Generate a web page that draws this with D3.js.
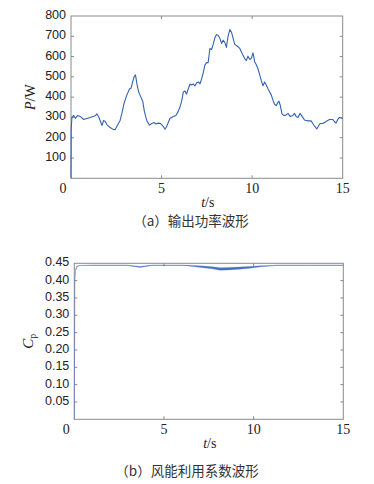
<!DOCTYPE html>
<html>
<head>
<meta charset="utf-8">
<script src="https://cdn.jsdelivr.net/npm/d3@7"></script>
<style>
  body { margin: 0; background: #fff; }
</style>
</head>
<body>
<script>
// ---- data ----
var xTicks = [0, 5, 10, 15];
var powerTicks = [100, 200, 300, 400, 500, 600, 700, 800];
var cpTicks = [0.05, 0.10, 0.15, 0.20, 0.25, 0.30, 0.35, 0.40, 0.45];

// (a) output power, t in s, P in W
var powerT = [0, 0.01, 0.05, 0.15, 0.24, 0.37, 0.51, 0.70, 0.88, 1.06, 1.34, 1.43, 1.52, 1.61, 1.71,
  1.80, 1.89, 1.98, 2.16, 2.35, 2.44, 2.53, 2.71, 2.81, 2.93, 3.08, 3.23, 3.32, 3.39, 3.48, 3.56,
  3.63, 3.72, 3.81, 3.96, 4.05, 4.18, 4.33, 4.46, 4.58, 4.69, 4.82, 4.95, 5.10, 5.19, 5.28, 5.46,
  5.65, 5.79, 5.92, 6.01, 6.11, 6.20, 6.29, 6.38, 6.47, 6.57, 6.66, 6.75, 6.84, 6.93, 7.02, 7.12,
  7.21, 7.30, 7.39, 7.48, 7.57, 7.67, 7.76, 7.85, 7.94, 8.03, 8.12, 8.22, 8.31, 8.40, 8.49, 8.58,
  8.67, 8.77, 8.86, 8.95, 9.04, 9.17, 9.32, 9.44, 9.59, 9.68, 9.77, 9.87, 9.96, 10.05, 10.14, 10.23,
  10.32, 10.42, 10.51, 10.60, 10.69, 10.78, 10.88, 10.97, 11.06, 11.15, 11.24, 11.33, 11.43, 11.48,
  11.55, 11.65, 11.74, 11.85, 11.98, 12.10, 12.25, 12.34, 12.43, 12.53, 12.65, 12.76, 12.89, 13.08,
  13.26, 13.35, 13.44, 13.57, 13.68, 13.75, 13.90, 14.08, 14.27, 14.45, 14.54, 14.63, 14.73, 14.82, 15.0];
var powerW = [0, 240, 300, 310, 295, 310, 305, 290, 295, 300, 308, 318, 305, 285, 260,
  285, 280, 265, 250, 240, 240, 255, 285, 320, 370, 410, 440, 445, 470, 500, 510,
  470, 430, 410, 380, 330, 285, 262, 270, 275, 268, 272, 270, 255, 242, 255, 295,
  305, 310, 330, 350, 380, 425, 430, 415, 440, 465, 460, 465, 455, 470, 475, 465,
  490, 520, 558, 570, 570, 640, 635, 660, 692, 708, 705, 690, 665, 680, 670, 645,
  700, 733, 720, 690, 660, 652, 640, 616, 590, 580, 602, 585, 592, 618, 575, 560,
  540, 510, 480, 456, 475, 460, 440, 425, 410, 385, 365, 358, 375, 380,
  360, 318, 310, 310, 320, 305, 310, 320, 305, 300, 320, 305, 287, 283,
  283, 270, 258, 243, 260, 270, 270, 280, 290, 290, 280, 272, 290, 300, 295];

// (b) wind power coefficient, band of the noisy trace
var cpT = [0, 0.03, 0.08, 0.15, 0.3, 1, 2, 2.9, 3.3, 3.66, 4.0, 4.4, 5, 6.06,
  6.6, 7.2, 7.7, 8.13, 8.6, 9.2, 9.8, 10.4, 11.0, 11.3, 12, 13, 14, 15];
var cpHigh = [0, 0.40, 0.435, 0.442, 0.444, 0.445, 0.445, 0.445, 0.443, 0.441, 0.443, 0.445, 0.445, 0.445,
  0.444, 0.442, 0.440, 0.437, 0.438, 0.439, 0.441, 0.443, 0.444, 0.445, 0.445, 0.445, 0.445, 0.445];
var cpLow = [0, 0.40, 0.43, 0.44, 0.443, 0.444, 0.444, 0.444, 0.441, 0.438, 0.441, 0.444, 0.444, 0.444,
  0.441, 0.437, 0.434, 0.430, 0.431, 0.433, 0.436, 0.440, 0.442, 0.444, 0.444, 0.444, 0.444, 0.444];

var lineColor = "#3562b5";
var cpColor = "#4a72c2";
var boxColor = "#8a8a8a";

var svg = d3.select("body").append("svg")
  .attr("width", 374)
  .attr("height", 484);

// draws the box, inner ticks and labels of one panel, returns the scales
function drawFrame(box, yDomain, yTicks, yFmt) {
  var x = d3.scaleLinear().domain([0, 15]).range([box.left, box.right]);
  var y = d3.scaleLinear().domain(yDomain).range([box.bottom, box.top]);
  var g = svg.append("g");

  g.append("rect")
    .attr("x", box.left).attr("y", box.top)
    .attr("width", box.right - box.left).attr("height", box.bottom - box.top)
    .attr("fill", "none").attr("stroke", boxColor).attr("stroke-width", 1);

  // inner ticks on all four sides
  var tl = 3;
  var innerX = xTicks.filter(d => d > 0 && d < 15);
  var innerY = yTicks.filter(d => d < yDomain[1]);
  innerX.forEach(function(d) {
    g.append("line").attr("x1", x(d)).attr("x2", x(d)).attr("y1", box.bottom).attr("y2", box.bottom - tl)
      .attr("stroke", boxColor);
    g.append("line").attr("x1", x(d)).attr("x2", x(d)).attr("y1", box.top).attr("y2", box.top + tl)
      .attr("stroke", boxColor);
  });
  innerY.forEach(function(d) {
    g.append("line").attr("x1", box.left).attr("x2", box.left + tl).attr("y1", y(d)).attr("y2", y(d))
      .attr("stroke", boxColor);
    g.append("line").attr("x1", box.right).attr("x2", box.right - tl).attr("y1", y(d)).attr("y2", y(d))
      .attr("stroke", boxColor);
  });

  // y tick labels (sans)
  g.selectAll(".ylab").data(yTicks).enter().append("text")
    .attr("x", box.left - 5)
    .attr("y", d => y(d) + 3)
    .attr("text-anchor", "end")
    .attr("font-family", "Liberation Sans, Arial, sans-serif")
    .attr("font-size", 12.5)
    .attr("fill", "#222")
    .text(yFmt);

  // x tick labels (serif)
  g.selectAll(".xlab").data(xTicks).enter().append("text")
    .attr("x", d => x(d) + (d === 0 ? -8 : 0))
    .attr("y", box.bottom + 15)
    .attr("text-anchor", "middle")
    .attr("font-family", "Liberation Serif, Times New Roman, serif")
    .attr("font-size", 14)
    .attr("fill", "#222")
    .text(d => d);

  // t/s
  var xl = g.append("text")
    .attr("x", (box.left + box.right) / 2 + 1)
    .attr("y", box.bottom + 28.5)
    .attr("text-anchor", "middle")
    .attr("font-family", "Liberation Serif, Times New Roman, serif")
    .attr("font-size", 14)
    .attr("fill", "#222");
  xl.append("tspan").attr("font-style", "italic").text("t");
  xl.append("tspan").text("/s");

  return { x: x, y: y, g: g };
}

// ---- panel (a) ----
var boxA = { left: 71, right: 342.7, top: 16, bottom: 178.3 };
var a = drawFrame(boxA, [0, 800], powerTicks, d => d);

var powerData = powerT.map((t, i) => ({ t: t, p: powerW[i] }));
a.g.append("path")
  .attr("d", d3.line().x(d => a.x(d.t)).y(d => a.y(d.p))(powerData))
  .attr("fill", "none")
  .attr("stroke", lineColor)
  .attr("stroke-width", 1.1)
  .attr("stroke-linejoin", "round");

var ylA = a.g.append("text")
  .attr("transform", "translate(35," + ((boxA.top + boxA.bottom) / 2) + ") rotate(-90)")
  .attr("text-anchor", "middle")
  .attr("font-family", "Liberation Serif, Times New Roman, serif")
  .attr("font-size", 14)
  .attr("fill", "#222");
ylA.append("tspan").attr("font-style", "italic").text("P");
ylA.append("tspan").text("/W");

svg.append("text")
  .attr("x", 191).attr("y", 226)
  .attr("text-anchor", "middle")
  .attr("font-family", "Noto Sans CJK SC, sans-serif")
  .attr("font-size", 13.5)
  .attr("fill", "#333")
  .text("（a）输出功率波形");

// ---- panel (b) ----
var boxB = { left: 74.3, right: 343.3, top: 263.3, bottom: 419.3 };
var b = drawFrame(boxB, [0, 0.45], cpTicks, d3.format(".2f"));

var cpData = cpT.map((t, i) => ({ t: t, hi: cpHigh[i], lo: cpLow[i] }));
b.g.append("path")
  .attr("d", d3.area().x(d => b.x(d.t)).y0(d => b.y(d.lo)).y1(d => b.y(d.hi))(cpData))
  .attr("fill", cpColor)
  .attr("stroke", cpColor)
  .attr("stroke-width", 0.5)
  .attr("stroke-opacity", 0.6);

var ylB = b.g.append("text")
  .attr("transform", "translate(33," + ((boxB.top + boxB.bottom) / 2) + ") rotate(-90)")
  .attr("text-anchor", "middle")
  .attr("font-family", "Liberation Serif, Times New Roman, serif")
  .attr("font-size", 15)
  .attr("fill", "#222");
ylB.append("tspan").attr("font-style", "italic").text("C");
ylB.append("tspan").attr("font-size", 10).attr("dy", 3).text("p");

svg.append("text")
  .attr("x", 187).attr("y", 476)
  .attr("text-anchor", "middle")
  .attr("font-family", "Noto Sans CJK SC, sans-serif")
  .attr("font-size", 13.5)
  .attr("fill", "#333")
  .text("（b）风能利用系数波形");
</script>
</body>
</html>
